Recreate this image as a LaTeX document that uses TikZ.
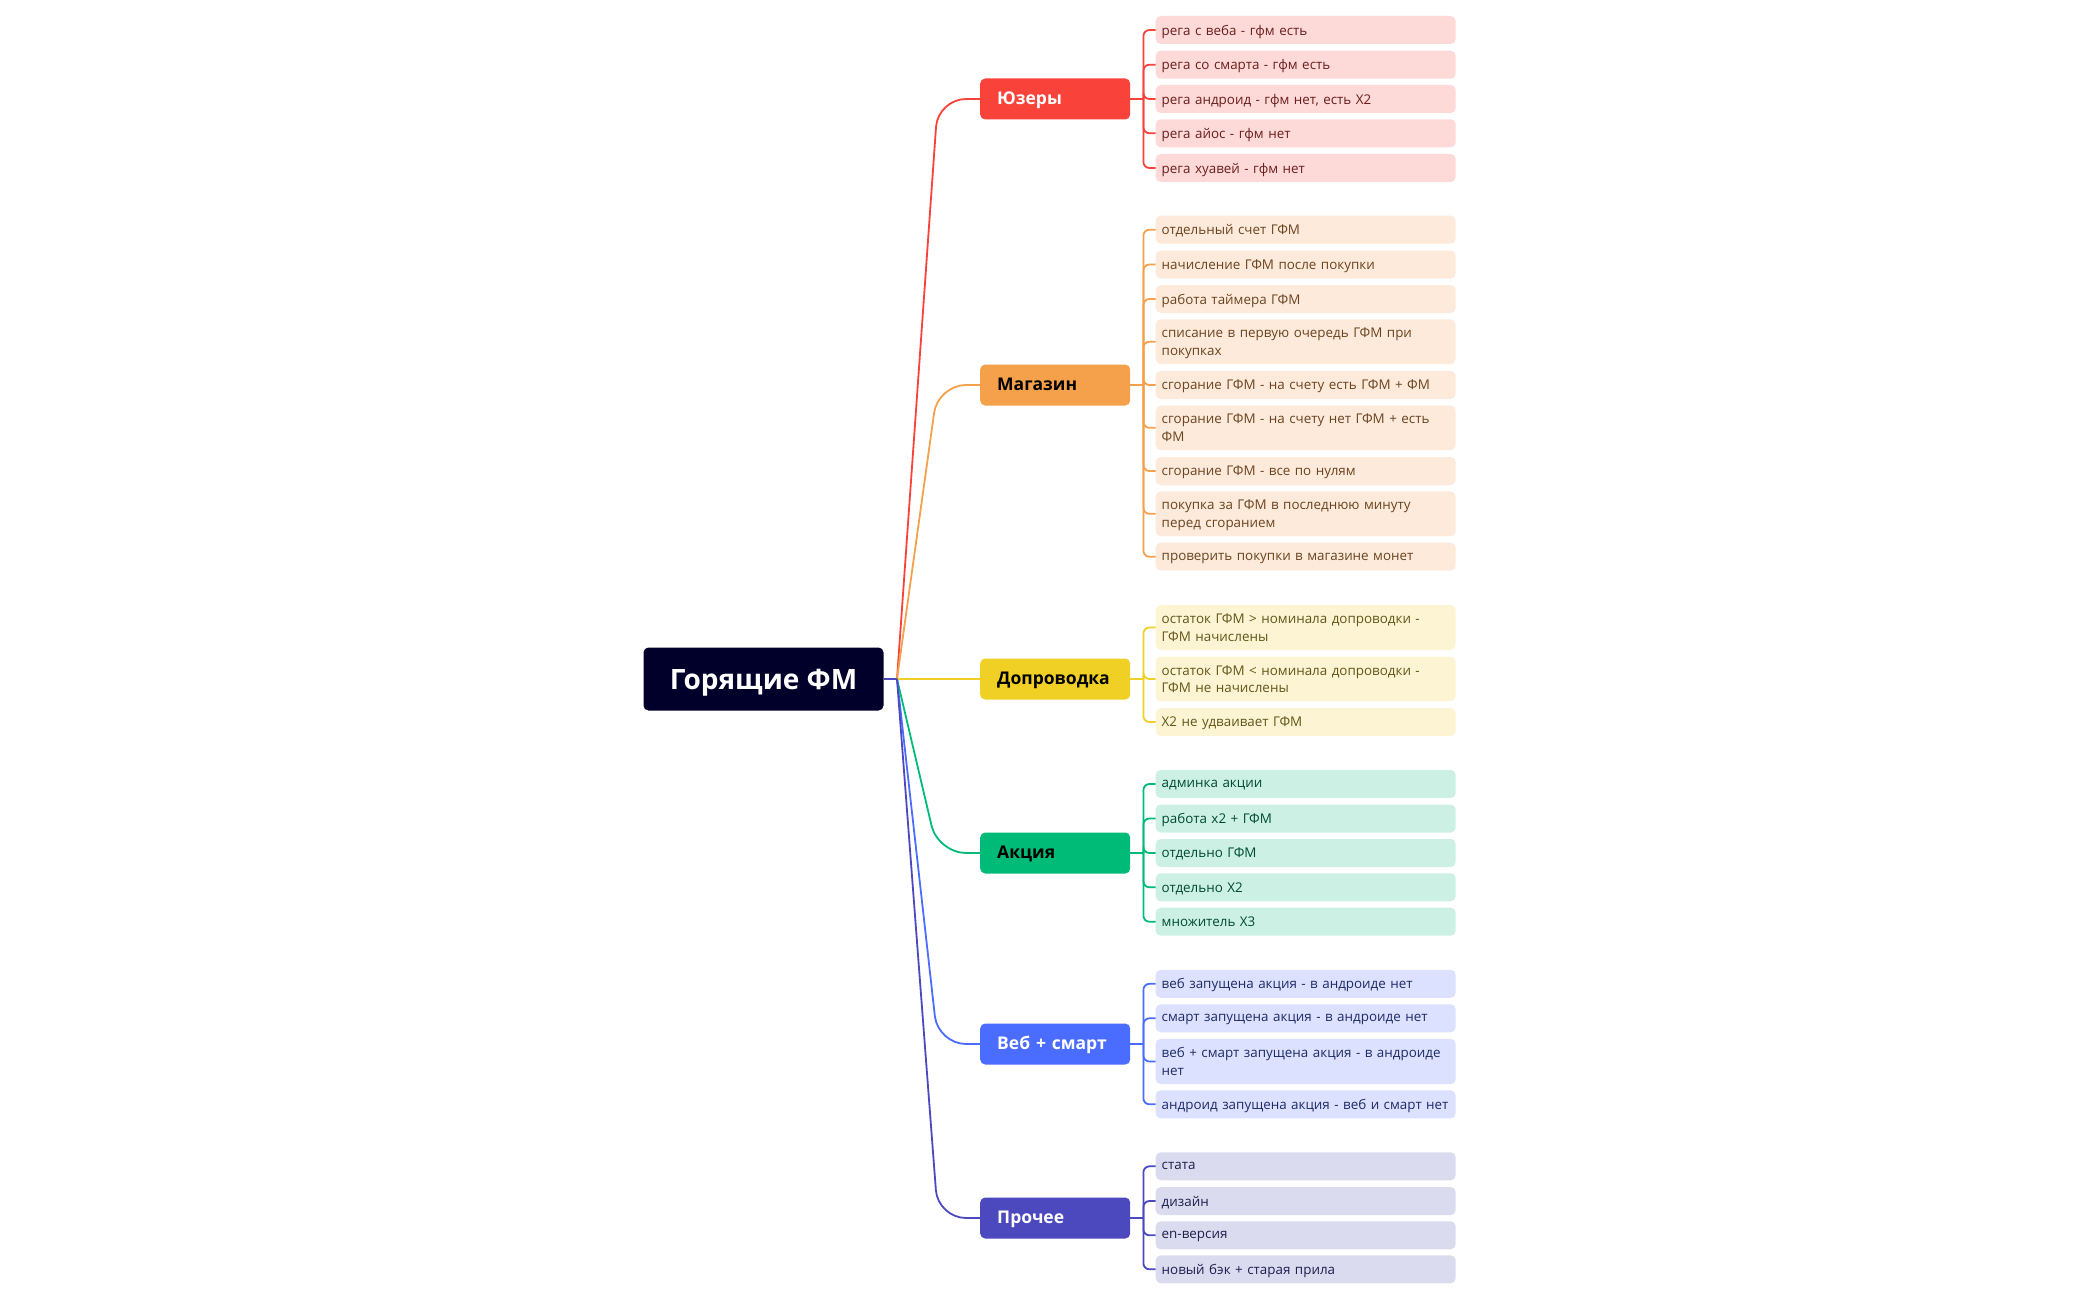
\documentclass[tikz,border=0pt]{standalone}
\usepackage{fontspec}
\setmainfont{Open Sans}
\definecolor{rootc}{HTML}{00002B}
\definecolor{redc}{HTML}{F9423A}\definecolor{redL}{HTML}{FDD9D8}\definecolor{redT}{HTML}{6B1F1C}
\definecolor{orac}{HTML}{F5A04B}\definecolor{oraL}{HTML}{FDEADB}\definecolor{oraT}{HTML}{6A4420}
\definecolor{yelc}{HTML}{F0D024}\definecolor{yelL}{HTML}{FCF4D2}\definecolor{yelT}{HTML}{62561A}
\definecolor{grnc}{HTML}{00BA78}\definecolor{grnL}{HTML}{CCF1E4}\definecolor{grnT}{HTML}{004A30}
\definecolor{bluc}{HTML}{4A6CFF}\definecolor{bluL}{HTML}{DBE1FE}\definecolor{bluT}{HTML}{1E2B66}
\definecolor{indc}{HTML}{4C48BE}\definecolor{indL}{HTML}{DBDBF0}\definecolor{indT}{HTML}{1F1D4C}
\tikzset{
  rootbox/.style={fill=rootc, rounded corners=5pt, minimum width=240pt, minimum height=63pt,
    text=white, font=\fontsize{28}{32}\selectfont\bfseries, inner sep=0pt,
    text height=26pt, text depth=4.5pt},
  branchbox/.style={fill=#1, rounded corners=5pt, minimum height=41pt, text width=116pt,
    inner xsep=17pt, inner ysep=0pt, align=left, anchor=west, font=\fontsize{17.5}{20}\selectfont\bfseries,
    text height=14pt, text depth=3pt},
  leafbase/.style 2 args={fill=#1, text=#2, rounded corners=5pt, minimum height=28pt, text width=288pt,
    inner xsep=6pt, inner ysep=8.8pt, align=left, anchor=west, font=\fontsize{13.4}{17.4}\selectfont},
  leafbox/.style 2 args={leafbase={#1}{#2}, text depth=0pt},
  leaftwo/.style 2 args={leafbase={#1}{#2}, text depth=17.4pt},
  mainline/.style={draw=#1, line width=1.8pt, rounded corners=28pt},
  leafline/.style={draw=#1, line width=1.8pt, rounded corners=6pt},
}
\begin{document}
\begin{tikzpicture}[x=1pt, y=-1pt]
\useasboundingbox (0,0) rectangle (2100,1300);
% root
\node[rootbox] (root) at (763.5,679) {Горящие ФМ};
\coordinate (J) at (897,679);

% branches
\node[branchbox=redc, text=white] (u) at (980,99) {Юзеры};
\node[branchbox=orac, text=black] (m) at (980,385) {Магазин};
\node[branchbox=yelc, text=black] (d) at (980,679) {Допроводка};
\node[branchbox=grnc, text=black] (a) at (980,853) {Акция};
\node[branchbox=bluc, text=white] (w) at (980,1044) {Веб + смарт};
\node[branchbox=indc, text=white] (p) at (980,1218) {Прочее};

% leaves: Юзеры
\node[leafbox={redL}{redT}] (u1) at (1155.5,30) {рега с веба - гфм есть};
\node[leafbox={redL}{redT}] (u2) at (1155.5,64.7) {рега со смарта - гфм есть};
\node[leafbox={redL}{redT}] (u3) at (1155.5,99) {рега андроид - гфм нет, есть Х2};
\node[leafbox={redL}{redT}] (u4) at (1155.5,133.3) {рега айос - гфм нет};
\node[leafbox={redL}{redT}] (u5) at (1155.5,168) {рега хуавей - гфм нет};
% Магазин
\node[leafbox={oraL}{oraT}] (m1) at (1155.5,229.7) {отдельный счет ГФМ};
\node[leafbox={oraL}{oraT}] (m2) at (1155.5,264.5) {начисление ГФМ после покупки};
\node[leafbox={oraL}{oraT}] (m3) at (1155.5,299) {работа таймера ГФМ};
\node[leaftwo={oraL}{oraT}] (m4) at (1155.5,341.7) {списание в первую очередь ГФМ при\\покупках};
\node[leafbox={oraL}{oraT}] (m5) at (1155.5,385) {сгорание ГФМ - на счету есть ГФМ + ФМ};
\node[leaftwo={oraL}{oraT}] (m6) at (1155.5,427.8) {сгорание ГФМ - на счету нет ГФМ + есть\\ФМ};
\node[leafbox={oraL}{oraT}] (m7) at (1155.5,471) {сгорание ГФМ - все по нулям};
\node[leaftwo={oraL}{oraT}] (m8) at (1155.5,513.8) {покупка за ГФМ в последнюю минуту\\перед сгоранием};
\node[leafbox={oraL}{oraT}] (m9) at (1155.5,556.7) {проверить покупки в магазине монет};
% Допроводка
\node[leaftwo={yelL}{yelT}] (d1) at (1155.5,627.5) {остаток ГФМ > номинала допроводки -\\ГФМ начислены};
\node[leaftwo={yelL}{yelT}] (d2) at (1155.5,679) {остаток ГФМ < номинала допроводки -\\ГФМ не начислены};
\node[leafbox={yelL}{yelT}] (d3) at (1155.5,722) {Х2 не удваивает ГФМ};
% Акция
\node[leafbox={grnL}{grnT}] (a1) at (1155.5,784) {админка акции};
\node[leafbox={grnL}{grnT}] (a2) at (1155.5,818.5) {работа х2 + ГФМ};
\node[leafbox={grnL}{grnT}] (a3) at (1155.5,853) {отдельно ГФМ};
\node[leafbox={grnL}{grnT}] (a4) at (1155.5,887.3) {отдельно Х2};
\node[leafbox={grnL}{grnT}] (a5) at (1155.5,921.7) {множитель Х3};
% Веб + смарт
\node[leafbox={bluL}{bluT}] (w1) at (1155.5,983.8) {веб запущена акция - в андроиде нет};
\node[leafbox={bluL}{bluT}] (w2) at (1155.5,1018.3) {смарт запущена акция - в андроиде нет};
\node[leaftwo={bluL}{bluT}] (w3) at (1155.5,1061.5) {веб + смарт запущена акция - в андроиде\\нет};
\node[leafbox={bluL}{bluT}] (w4) at (1155.5,1104.3) {андроид запущена акция - веб и смарт нет};
% Прочее
\node[leafbox={indL}{indT}] (p1) at (1155.5,1166.3) {стата};
\node[leafbox={indL}{indT}] (p2) at (1155.5,1201) {дизайн};
\node[leafbox={indL}{indT}] (p3) at (1155.5,1235.3) {en-версия};
\node[leafbox={indL}{indT}] (p4) at (1155.5,1269.3) {новый бэк + старая прила};

% root to branches
\draw[mainline=redc] (J) -- ([xshift=-42pt]u.west) -- (u.west);
\draw[mainline=orac] (J) -- ([xshift=-42pt]m.west) -- (m.west);
\draw[mainline=grnc] (J) -- ([xshift=-42pt]a.west) -- (a.west);
\draw[mainline=yelc] (J) -- (d.west);
\draw[mainline=bluc] (J) -- ([xshift=-42pt]w.west) -- (w.west);
\draw[mainline=indc] (J) -- ([xshift=-42pt]p.west) -- (p.west);
\draw[mainline=indc] (root.east) -- (J);

% branch to leaves
\foreach \b/\c/\list in {u/redc/{1,2,3,4,5}, m/orac/{1,2,3,4,5,6,7,8,9}, d/yelc/{1,2,3},
  a/grnc/{1,2,3,4,5}, w/bluc/{1,2,3,4}, p/indc/{1,2,3,4}} {
  \coordinate (\b k) at ([xshift=13pt]\b.east);
  \draw[leafline=\c] (\b.east) -- (\b k);
  \foreach \i in \list {
    \draw[leafline=\c] (\b k) |- (\b\i.west);
  }
}
\end{tikzpicture}
\end{document}
